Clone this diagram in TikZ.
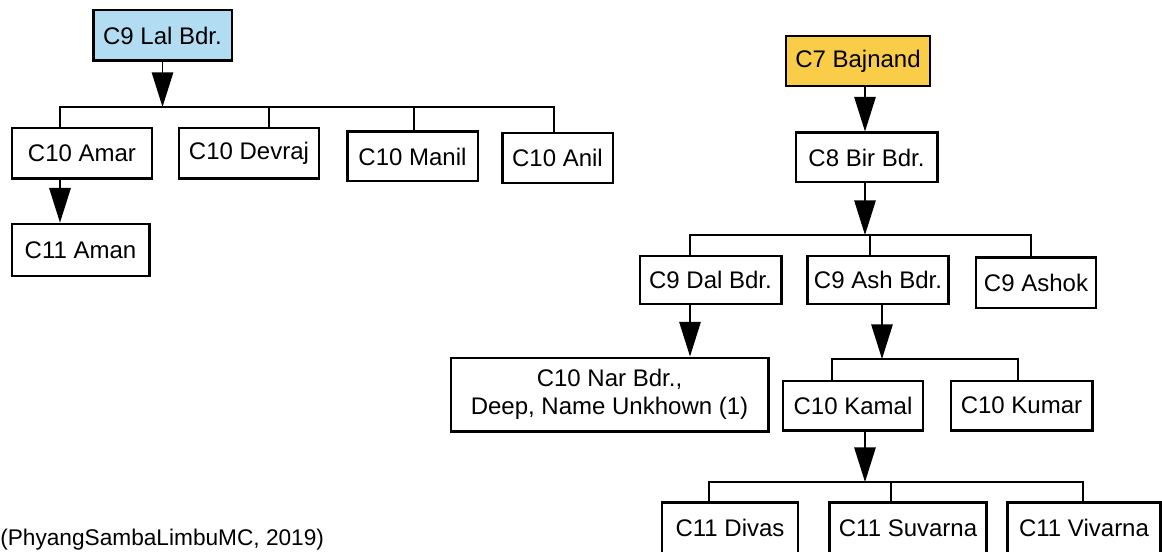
\documentclass[tikz,border=0pt]{standalone}
\usepackage{fontspec}
\setmainfont{Liberation Sans}
\usetikzlibrary{arrows.meta}
\definecolor{lalblue}{RGB}{178,220,242}
\definecolor{bajyellow}{RGB}{249,205,72}
\tikzset{
  box/.style={draw=black, line width=2pt, inner sep=0pt, align=center, font=\fontsize{18}{21}\selectfont},
  link/.style={draw=black, line width=1.4pt},
  arr/.style={link, -{Triangle[length=26pt, width=16pt]}}
}
\begin{document}
\begin{tikzpicture}[x=0.75pt, y=-0.75pt]
\useasboundingbox (0,0) rectangle (1162,552);
\node[box, fill=lalblue, minimum width=104pt, minimum height=38pt] (lal) at (162.5,35.5) {C9 Lal Bdr.};
\node[box, minimum width=105pt, minimum height=38pt] (amar) at (82,153.5) {C10 Amar};
\node[box, minimum width=105pt, minimum height=38pt] (devraj) at (249,153.5) {C10 Devraj};
\node[box, minimum width=98pt, minimum height=37pt] (manil) at (412.5,156.5) {C10 Manil};
\node[box, minimum width=83pt, minimum height=37.5pt] (anil) at (557.5,158) {C10 Anil};
\node[box, minimum width=103pt, minimum height=39pt] (aman) at (80.5,250) {C11 Aman};
\node[box, fill=bajyellow, minimum width=108pt, minimum height=37.5pt] (bajnand) at (858,61) {C7 Bajnand};
\node[box, minimum width=106pt, minimum height=37pt] (bir) at (866.5,157.5) {C8 Bir Bdr.};
\node[box, minimum width=106pt, minimum height=36pt] (dal) at (710.5,280) {C9 Dal Bdr.};
\node[box, minimum width=106pt, minimum height=36pt] (ash) at (878,280) {C9 Ash Bdr.};
\node[box, minimum width=90pt, minimum height=38pt] (ashok) at (1036,282.5) {C9 Ashok};
\node[box, minimum width=238pt, minimum height=55pt] (nar) at (609.5,394.5) {C10 Nar Bdr.,\\Deep, Name Unkhown (1)};
\node[box, minimum width=105pt, minimum height=37pt] (kamal) at (853,405.5) {C10 Kamal};
\node[box, minimum width=106pt, minimum height=37pt] (kumar) at (1021.5,405.5) {C10 Kumar};
\node[box, minimum width=102pt, minimum height=38pt] (divas) at (730,528) {C11 Divas};
\node[box, minimum width=118pt, minimum height=38pt] (suvarna) at (908,528) {C11 Suvarna};
\node[box, minimum width=115pt, minimum height=38pt] (vivarna) at (1084,528) {C11 Vivarna};
\node[anchor=base west, inner sep=0pt, font=\fontsize{17}{20}\selectfont] (cite) at (0,545) {(PhyangSambaLimbuMC, 2019)};
\coordinate (t1a) at (60,107);
\coordinate (t1b) at (269,107);
\coordinate (t1c) at (414,107);
\coordinate (t1d) at (554,107);
\coordinate (t2a) at (690,235);
\coordinate (t2b) at (870,235);
\coordinate (t2c) at (1031,235);
\coordinate (t3m) at (882,359);
\coordinate (t3a) at (832,359);
\coordinate (t3b) at (1018,359);
\coordinate (t4m) at (865,482);
\coordinate (t4a) at (709,482);
\coordinate (t4b) at (891,482);
\coordinate (t4c) at (1083,482);
\draw[arr] (lal) -- (lal |- t1a);
\draw[link] (t1a |- amar.north) -- (t1a) -- (t1d) -- (t1d |- anil.north);
\draw[link] (t1b) -- (t1b |- devraj.north);
\draw[link] (t1c) -- (t1c |- manil.north);
\draw[arr] (t1a |- amar.south) -- (t1a |- aman.north);
\draw[arr] (t4m |- bajnand.south) -- (t4m |- bir.north);
\draw[arr] (t4m |- bir.south) -- (t4m |- t2a);
\draw[link] (t2a |- dal.north) -- (t2a) -- (t2c) -- (t2c |- ashok.north);
\draw[link] (t2b) -- (t2b |- ash.north);
\draw[arr] (t2a |- dal.south) -- (t2a |- nar.north);
\draw[arr] (t3m |- ash.south) -- (t3m);
\draw[link] (t3a |- kamal.north) -- (t3a) -- (t3b) -- (t3b |- kumar.north);
\draw[arr] (t4m |- kamal.south) -- (t4m);
\draw[link] (t4a |- divas.north) -- (t4a) -- (t4c) -- (t4c |- vivarna.north);
\draw[link] (t4b) -- (t4b |- suvarna.north);
\end{tikzpicture}
\end{document}
